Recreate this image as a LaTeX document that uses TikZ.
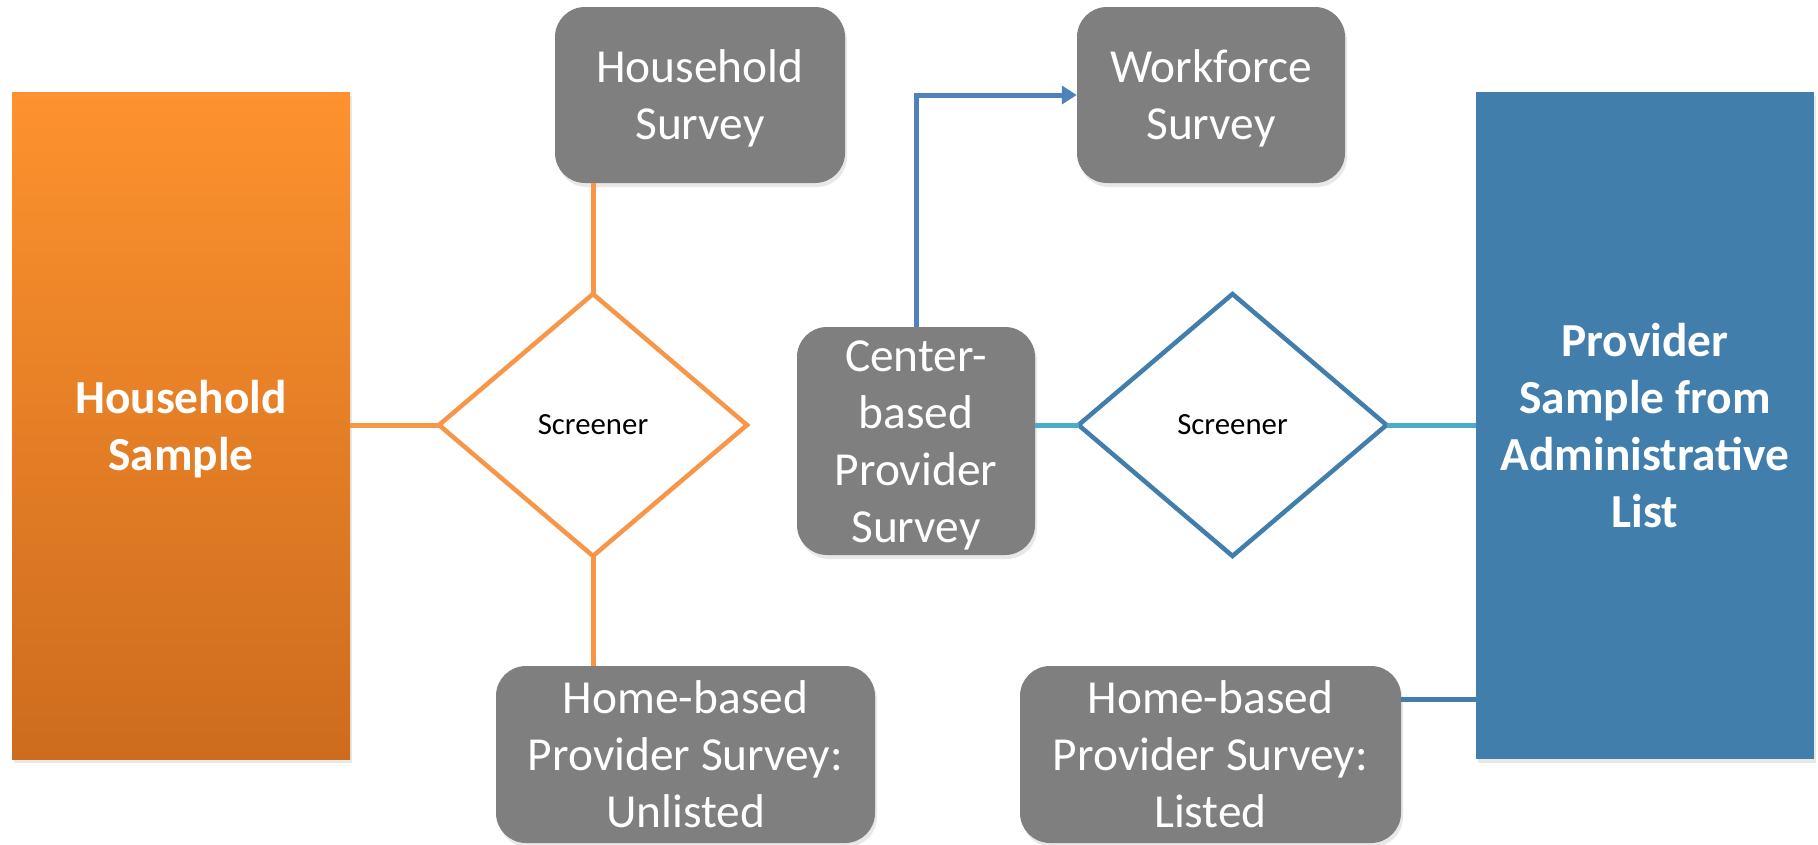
\documentclass[tikz,border=0pt]{standalone}
\usepackage{fontspec}
\setmainfont{Carlito}
\usetikzlibrary{shapes.geometric,arrows.meta,shadows}
\definecolor{boxgrey}{RGB}{127,127,127}
\definecolor{orangeline}{RGB}{247,150,70}
\definecolor{orangetop}{RGB}{253,146,46}
\definecolor{orangebot}{RGB}{205,108,30}
\definecolor{provblue}{RGB}{65,126,172}
\definecolor{arrowblue}{RGB}{79,129,189}
\definecolor{tealline}{RGB}{75,172,198}
\newcommand\ls{\rule[-12.5pt]{0pt}{57pt}}
\begin{document}
\begin{tikzpicture}[x=1pt,y=-1pt,
  softshadow/.style={drop shadow={opacity=0.18, shadow xshift=2pt, shadow yshift=-4pt}},
  greybox/.style={rectangle, rounded corners=30pt, fill=boxgrey, text=white,
    font=\fontsize{47.4}{57}\selectfont, align=center, inner sep=0pt, softshadow},
  samplebox/.style={rectangle, text=white, font=\bfseries\fontsize{47.4}{57}\selectfont,
    align=center, inner sep=0pt, minimum width=338pt, minimum height=667pt, softshadow},
  screen/.style={diamond, draw, line width=4.5pt, fill=white, minimum width=308pt,
    minimum height=262pt, inner sep=0pt, outer sep=0pt, font=\fontsize{30.8}{37}\selectfont},
  orangelink/.style={draw=orangeline, line width=5pt},
  teallink/.style={draw=tealline, line width=5pt},
  bluelink/.style={draw=provblue, line width=5pt},
  arrowlink/.style={draw=arrowblue, line width=5pt, -{Triangle[length=15pt,width=18pt]}},
]
\useasboundingbox (0,0) rectangle (1818,844);

% nodes
\node[samplebox, top color=orangetop, bottom color=orangebot] (hhs) at (181,425.5) {\ls Household\\Sample\ls};
\node[samplebox, fill=provblue] (psamp) at (1645,425.5) {\ls Provider\\Sample from\\Administrative\\List\ls};

\node[greybox, minimum width=290pt, minimum height=176pt] (hsurv) at (700,95) {\ls Household\\Survey\ls};
\node[greybox, minimum width=268pt, minimum height=176pt] (wf) at (1211,95) {\ls Workforce\\Survey\ls};
\node[greybox, minimum width=238pt, minimum height=218pt] (cb) at (916,441) {\ls Center-\\based\\Provider\\Survey\ls};
\node[greybox, minimum width=379pt, minimum height=177pt] (unl) at (685.5,754.5) {\ls Home-based\\Provider Survey:\\Unlisted\ls};
\node[greybox, minimum width=381pt, minimum height=177pt] (lst) at (1210.5,754.5) {\ls Home-based\\Provider Survey:\\Listed\ls};

\node[screen, draw=orangeline] (scr1) at (593,425) {Screener};
\node[screen, draw=provblue] (scr2) at (1232.5,425) {Screener};

% connectors
\draw[orangelink] (scr1.west -| hhs.east) -- (scr1.west);
\draw[orangelink] (scr1.north |- hsurv.south) -- (scr1.north);
\draw[orangelink] (scr1.south) -- (scr1.south |- unl.north);
\draw[teallink] (scr2.west -| cb.east) -- (scr2.west);
\draw[teallink] (scr2.east) -- (scr2.east -| psamp.west);
\draw[bluelink] ([yshift=55pt]lst.east) -- ([yshift=55pt]lst.east -| psamp.west);
\draw[arrowlink] (cb.north) |- (wf.west);
\end{tikzpicture}
\end{document}
